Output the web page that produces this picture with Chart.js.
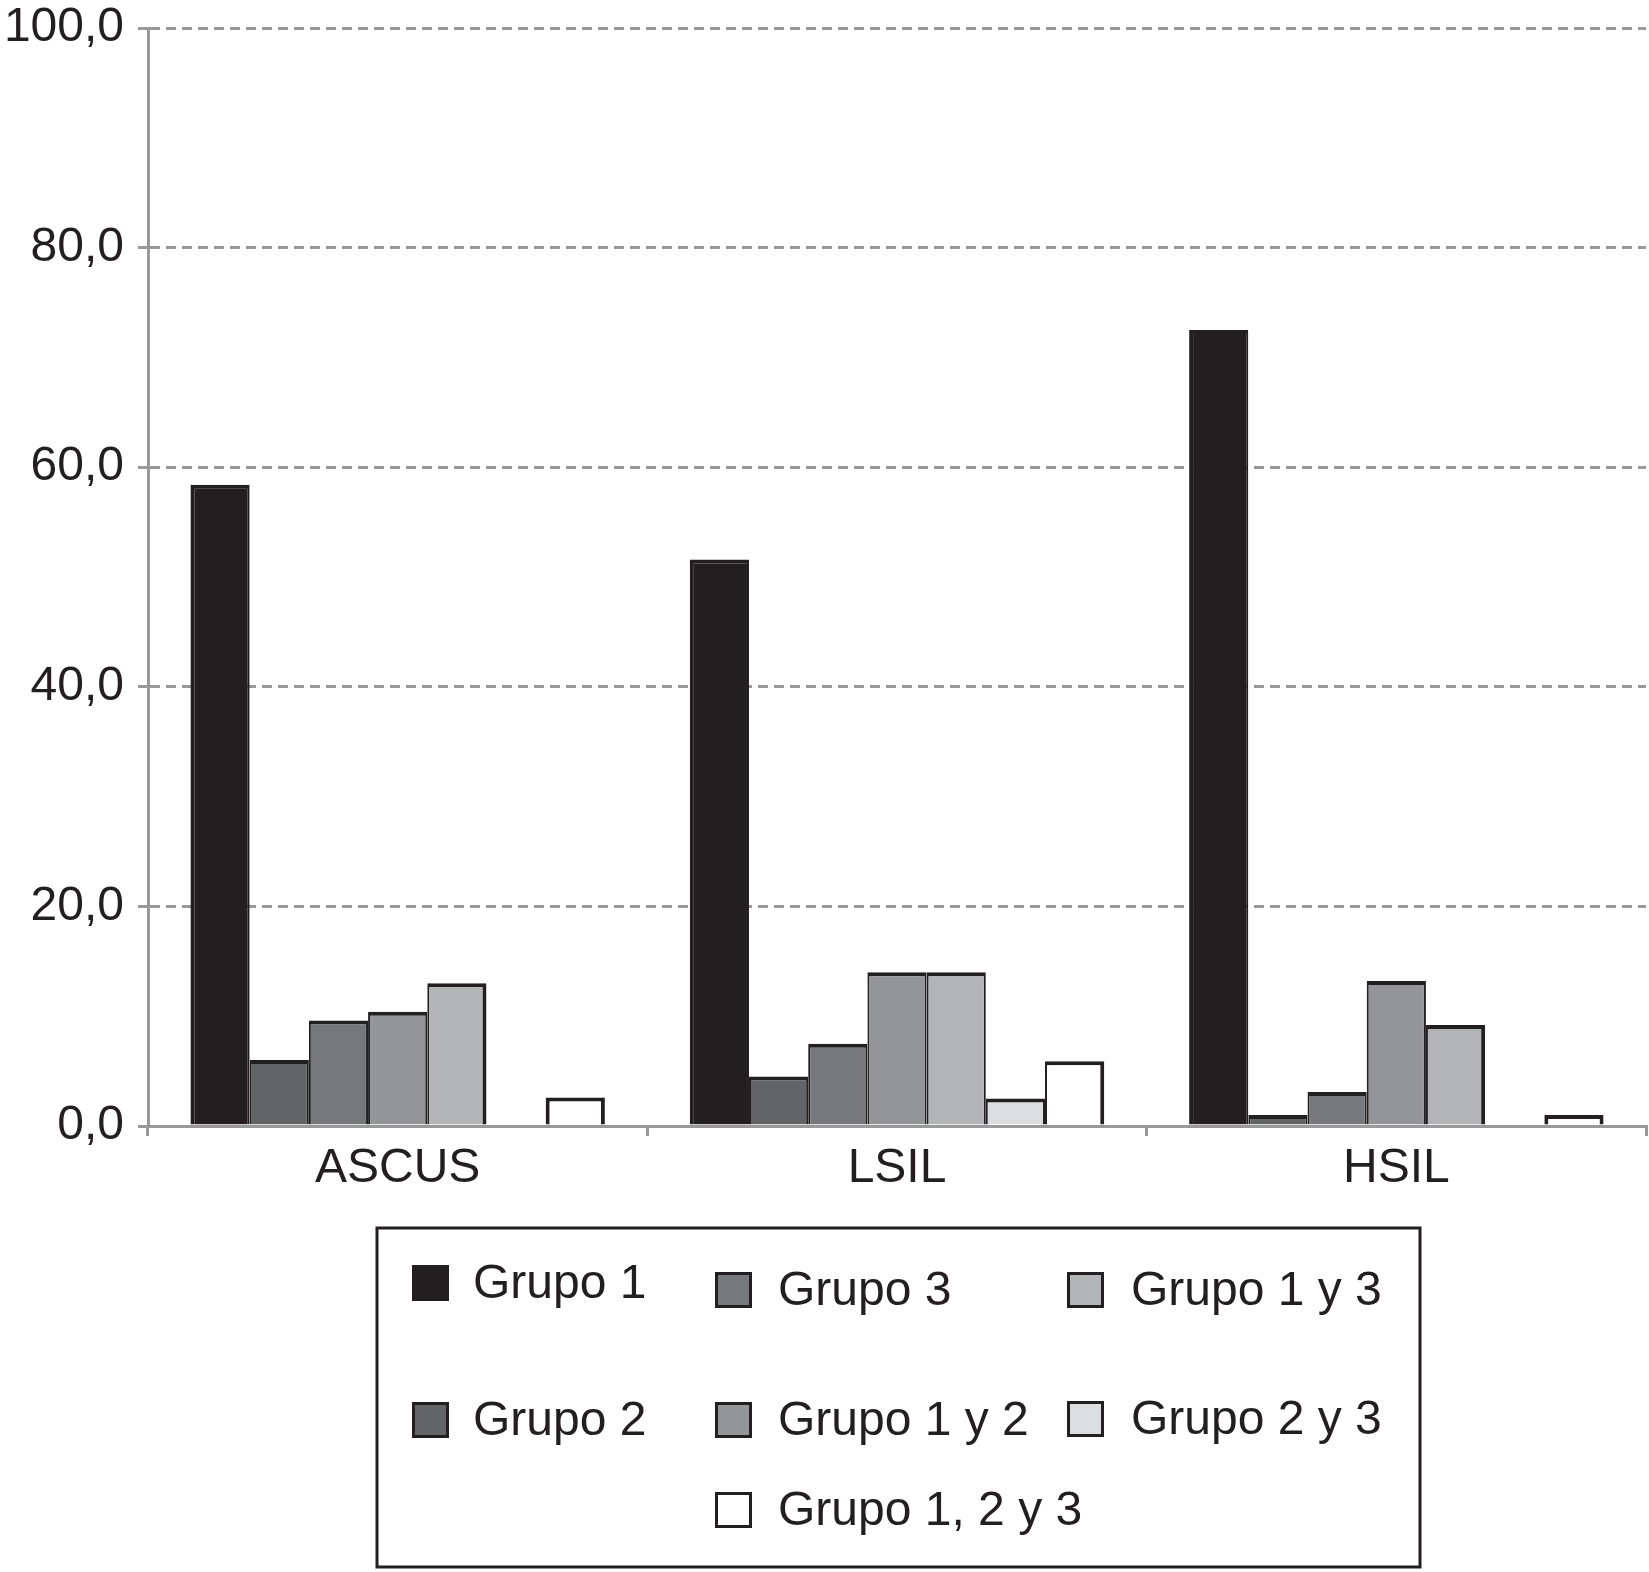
<!DOCTYPE html>
<html>
<head>
<meta charset="utf-8">
<script src="https://cdn.jsdelivr.net/npm/chart.js@4/dist/chart.umd.min.js"></script>
<style>
  html, body { margin: 0; padding: 0; background: #fff; }
  #wrap { width: 1649px; height: 1572px; }
</style>
</head>
<body>
<div id="wrap"><canvas id="c" width="1649" height="1572"></canvas></div>
<script>
const categories = ["ASCUS", "LSIL", "HSIL"];
const seriesNames = ["Grupo 1", "Grupo 2", "Grupo 3", "Grupo 1 y 2", "Grupo 1 y 3", "Grupo 2 y 3", "Grupo 1, 2 y 3"];
const grupo1    = [58.4, 51.6, 72.5];
const grupo2    = [6.0, 4.5, 1.0];
const grupo3    = [9.6, 7.5, 3.1];
const grupo1y2  = [10.4, 14.0, 13.2];
const grupo1y3  = [13.0, 14.0, 9.2];
const grupo2y3  = [0.0, 2.5, 0.0];
const grupo123  = [2.6, 5.9, 1.0];
const yTicks = [0, 20, 40, 60, 80, 100];
const seriesValues = [grupo1, grupo2, grupo3, grupo1y2, grupo1y3, grupo2y3, grupo123];
const seriesColors = ["#231f20", "#636466", "#77787b", "#939598", "#b3b4b6", "#dcdddf", "#ffffff"];
// legend arrangement (column, row) per series, as in the original
const legendSlots = [[0,0],[0,1],[1,0],[1,1],[2,0],[2,1],[1,2]];

const FONT = '"Liberation Sans", Arial, Helvetica, sans-serif';
const INK = '#231f20';
const AXIS = '#999999';

// Outline like a centred stroke: shared edges between neighbouring bars are not doubled
function barBorder(ctx) {
  const d = ctx.datasetIndex, i = ctx.dataIndex;
  const v = k => (k >= 0 && k < seriesValues.length) ? seriesValues[k][i] : 0;
  return {
    top: 4,
    bottom: 0,
    left: v(d - 1) > 0 ? 2 : 4,
    right: v(d + 1) > 0 ? 2 : 4
  };
}

const legendPlugin = {
  id: 'boxLegend',
  afterDraw(chart) {
    const ctx = chart.ctx;
    ctx.save();
    ctx.strokeStyle = INK;
    ctx.lineWidth = 3;
    ctx.strokeRect(377, 1228, 1043, 339);
    const swX = [412, 715, 1067];
    const txX = [473, 778, 1131];
    const rowY = [[1283, 1290, 1290], [1420, 1420, 1419], [1510, 1510, 1510]];
    ctx.font = '48px ' + FONT;
    ctx.textBaseline = 'middle';
    ctx.textAlign = 'left';
    chart.data.datasets.forEach((ds, i) => {
      const [col, row] = legendSlots[i];
      const cy = rowY[row][col];
      ctx.fillStyle = ds.backgroundColor;
      ctx.fillRect(swX[col], cy - 18, 37, 36);
      ctx.strokeStyle = INK;
      ctx.lineWidth = 3;
      ctx.strokeRect(swX[col] + 1.5, cy - 16.5, 34, 33);
      ctx.fillStyle = INK;
      ctx.fillText(ds.label, txX[col], cy + 2);
    });
    ctx.restore();
  }
};

new Chart(document.getElementById('c'), {
  type: 'bar',
  data: {
    labels: categories,
    datasets: seriesNames.map((name, i) => ({
      label: name,
      data: seriesValues[i],
      backgroundColor: seriesColors[i],
      borderColor: INK,
      borderWidth: barBorder,
      borderSkipped: 'start'
    }))
  },
  options: {
    responsive: false,
    animation: false,
    devicePixelRatio: 1,
    categoryPercentage: 0.83,
    barPercentage: 1.0,
    layout: { padding: { top: 28, right: 3, bottom: 356, left: 0 } },
    plugins: { legend: { display: false }, tooltip: { enabled: false } },
    scales: {
      x: {
        z: 1,
        grid: { display: true, drawOnChartArea: false, drawTicks: true, tickLength: 10, color: AXIS, lineWidth: 3, offset: true },
        border: { display: true, color: AXIS, width: 3 },
        ticks: { color: INK, font: { family: FONT, size: 48 }, padding: 4 },
        afterFit(scale) { scale.height = 90; scale.paddingLeft = 0; scale.paddingRight = 0; }
      },
      y: {
        min: 0, max: 100,
        afterBuildTicks(scale) { scale.ticks = yTicks.map(v => ({ value: v })); },
        grid: { color: AXIS, lineWidth: 3, tickLength: 10, drawTicks: true, tickColor: AXIS, tickBorderDash: [10, 6] },
        border: { display: true, color: AXIS, width: 3, dash: [10, 6], dashOffset: 0 },
        ticks: {
          color: INK, font: { family: FONT, size: 48 }, padding: 14,
          callback: v => v.toFixed(1).replace('.', ',')
        },
        afterFit(scale) { scale.width = 148; scale.paddingTop = 0; scale.paddingBottom = 0; }
      }
    }
  },
  plugins: [legendPlugin]
});
</script>
</body>
</html>
